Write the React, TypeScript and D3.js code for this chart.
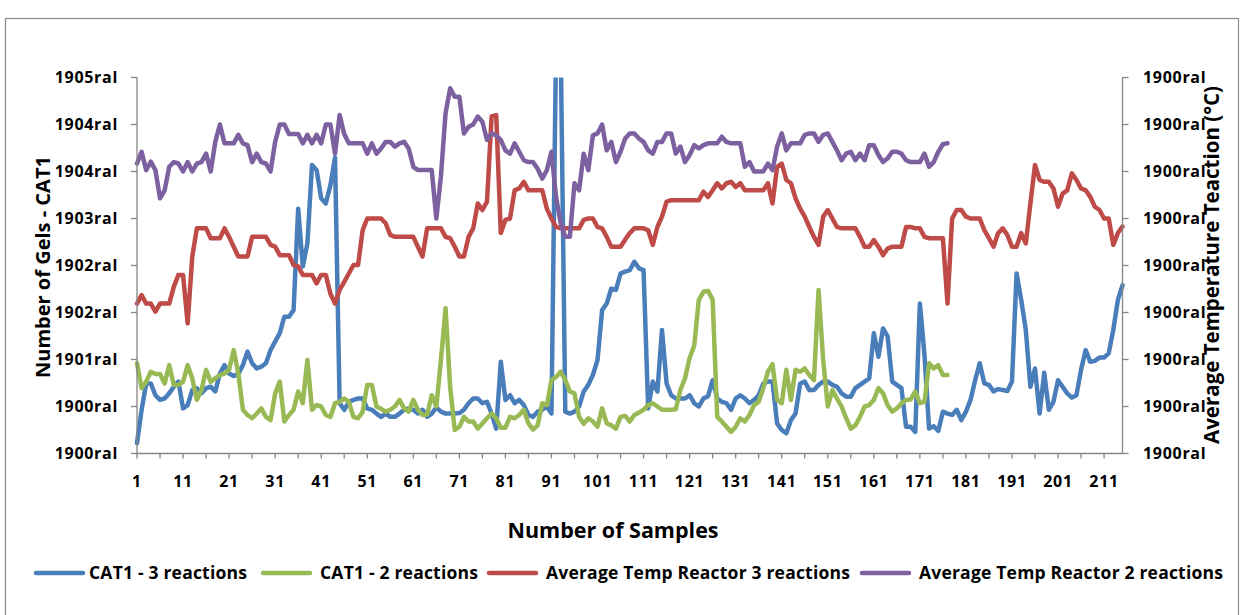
import React from 'react';
import * as d3 from 'd3';

const W = 1245;
const H = 615;
const plot = { left: 137, right: 1122.5, top: 77.5, bottom: 453.5 };
const FONT = '"Open Sans", Lato, sans-serif';

// Category axis: sample numbers
const sampleCount = 215;
const samples = d3.range(1, sampleCount + 1);
const xTickLabels = [1, 11, 21, 31, 41, 51, 61, 71, 81, 91, 101, 111, 121, 131, 141, 151, 161, 171, 181, 191, 201, 211];

// Left axis (CAT1) ticks and their (odd) formatted labels
const leftTicks = [0, 200, 400, 600, 800, 1000, 1200, 1400, 1600];
const leftTickLabels = ['1900ral', '1900ral', '1901ral', '1902ral', '1902ral', '1903ral', '1904ral', '1904ral', '1905ral'];
// Right axis (temperature) ticks and labels
const rightTicks = [0, 10, 20, 30, 40, 50, 60, 70, 80];
const rightTickLabels = ['1900ral', '1900ral', '1900ral', '1900ral', '1900ral', '1900ral', '1900ral', '1900ral', '1900ral'];

// CAT1 - 3 reactions (left axis)
const cat1Reactions3 = [
  44, 186, 298, 298, 248, 228, 234, 256, 284, 306,
  192, 206, 270, 278, 256, 278, 284, 264, 340, 376,
  340, 330, 338, 376, 434, 384, 362, 370, 384, 440,
  476, 512, 582, 582, 610, 1042, 796, 894, 1228, 1206,
  1086, 1064, 1142, 1260, 214, 186, 220, 228, 234, 234,
  192, 186, 170, 156, 170, 156, 156, 170, 186, 192,
  186, 170, 186, 156, 170, 196, 178, 170, 170, 170,
  172, 186, 214, 234, 234, 214, 220, 170, 106, 390,
  228, 248, 214, 228, 206, 164, 156, 178, 186, 200,
  170, 1750, 1750, 178, 170, 178, 200, 264, 292, 334,
  398, 610, 638, 702, 696, 766, 774, 780, 816, 788,
  780, 192, 306, 264, 526, 298, 248, 234, 234, 234,
  248, 214, 200, 234, 244, 312, 234, 220, 214, 186,
  234, 248, 234, 214, 228, 248, 298, 306, 306, 128,
  100, 86, 142, 170, 298, 306, 270, 270, 292, 306,
  306, 292, 284, 256, 242, 242, 278, 292, 306, 320,
  512, 412, 532, 498, 306, 292, 278, 114, 114, 92,
  638, 420, 106, 116, 96, 178, 170, 164, 186, 142,
  178, 228, 312, 384, 298, 292, 264, 274, 270, 266,
  306, 766, 654, 526, 284, 362, 170, 344, 186, 220,
  312, 284, 256, 238, 248, 356, 440, 390, 394, 408,
  408, 426, 526, 654, 716,
];

// CAT1 - 2 reactions (left axis)
const cat1Reactions2 = [
  384, 278, 306, 348, 338, 338, 298, 376, 292, 292,
  306, 376, 320, 228, 270, 356, 306, 320, 334, 340,
  356, 440, 340, 186, 164, 150, 170, 192, 156, 142,
  256, 306, 136, 164, 186, 264, 214, 398, 186, 206,
  200, 164, 156, 214, 220, 234, 220, 156, 150, 178,
  292, 292, 200, 190, 178, 186, 200, 228, 192, 178,
  228, 186, 164, 166, 248, 200, 398, 618, 284, 100,
  114, 156, 136, 136, 106, 128, 150, 170, 150, 110,
  110, 156, 150, 164, 186, 128, 102, 120, 214, 206,
  312, 326, 348, 312, 264, 256, 156, 126, 150, 136,
  114, 192, 128, 120, 106, 156, 160, 136, 164, 174,
  186, 206, 214, 200, 186, 186, 186, 188, 270, 320,
  406, 460, 654, 688, 692, 654, 156, 136, 114, 92,
  114, 150, 136, 164, 206, 220, 278, 348, 380, 228,
  214, 356, 228, 356, 348, 362, 334, 312, 696, 398,
  200, 270, 234, 200, 150, 106, 120, 156, 200, 206,
  228, 278, 256, 206, 178, 192, 214, 228, 230, 264,
  214, 220, 384, 362, 376, 334, 334,
];

// Average Temp Reactor 3 reactions (right axis)
const tempReactor3 = [
  31.9, 33.7, 31.9, 31.9, 30.2, 31.9, 31.9, 31.9, 35.5, 38.0,
  38.0, 27.7, 41.9, 47.9, 47.9, 47.9, 45.8, 45.8, 45.8, 47.9,
  46.1, 44.0, 41.9, 41.9, 41.9, 46.1, 46.1, 46.1, 46.1, 44.4,
  44.0, 42.2, 42.2, 42.2, 40.1, 39.8, 38.0, 38.0, 38.0, 36.2,
  38.0, 38.0, 34.0, 31.9, 34.8, 36.5, 38.3, 40.1, 40.1, 47.5,
  50.0, 50.0, 50.0, 50.0, 49.0, 46.5, 46.1, 46.1, 46.1, 46.1,
  46.1, 44.0, 41.9, 47.9, 47.9, 47.9, 47.9, 46.1, 45.8, 44.0,
  41.9, 41.9, 46.1, 47.9, 53.2, 51.8, 53.6, 71.7, 72.0, 46.9,
  49.7, 50.0, 56.0, 56.4, 57.8, 56.0, 56.0, 56.0, 56.0, 52.1,
  50.0, 48.2, 47.9, 47.9, 47.9, 47.9, 47.9, 49.7, 50.0, 50.0,
  48.2, 47.9, 46.1, 44.0, 44.0, 44.0, 45.5, 46.9, 47.9, 47.9,
  47.9, 47.5, 44.4, 48.2, 50.4, 53.6, 53.9, 53.9, 53.9, 53.9,
  53.9, 53.9, 53.9, 55.7, 54.6, 56.0, 57.5, 56.4, 57.5, 57.8,
  56.7, 57.5, 56.0, 56.0, 56.0, 56.0, 56.0, 57.5, 53.2, 61.0,
  61.7, 58.2, 57.5, 54.3, 52.1, 50.4, 48.2, 46.1, 44.4, 50.4,
  51.8, 50.0, 48.2, 47.9, 47.9, 47.9, 47.9, 46.1, 44.0, 44.0,
  45.4, 44.0, 42.2, 43.6, 44.0, 44.0, 44.0, 48.2, 48.2, 47.9,
  47.9, 46.1, 45.8, 45.8, 45.8, 45.8, 31.9, 50.0, 51.8, 51.8,
  50.4, 50.0, 50.0, 50.0, 47.5, 45.8, 44.0, 46.9, 47.9, 46.5,
  44.0, 44.0, 46.9, 44.7, 53.2, 61.4, 58.2, 57.8, 57.8, 56.4,
  52.5, 55.3, 56.0, 59.6, 58.2, 56.4, 56.0, 54.6, 52.5, 51.8,
  50.0, 50.0, 44.4, 46.9, 48.3,
];

// Average Temp Reactor 2 reactions (right axis)
const tempReactor2 = [
  61.7, 64.2, 60.3, 62.1, 60.3, 54.3, 56.0, 61.0, 62.0, 61.7,
  60.0, 62.0, 60.0, 61.7, 62.0, 63.8, 60.0, 66.3, 70.0, 66.0,
  66.0, 66.0, 67.8, 66.0, 65.6, 62.0, 63.8, 62.0, 61.7, 60.0,
  66.3, 70.0, 70.0, 68.0, 68.0, 68.0, 66.0, 67.8, 66.0, 67.8,
  66.0, 70.0, 70.0, 63.8, 72.0, 68.0, 66.0, 66.0, 66.0, 66.0,
  63.8, 66.0, 63.8, 64.9, 66.3, 66.3, 65.3, 66.0, 66.3, 64.9,
  61.0, 60.3, 60.3, 60.3, 60.3, 50.0, 59.0, 72.4, 77.7, 75.9,
  75.9, 68.1, 69.5, 70.0, 71.7, 70.6, 66.7, 68.1, 67.7, 66.7,
  64.5, 63.8, 66.0, 64.2, 62.4, 62.0, 62.0, 60.6, 58.5, 60.3,
  64.2, 54.6, 49.0, 46.1, 46.1, 57.5, 56.0, 63.8, 60.3, 67.7,
  68.1, 70.0, 64.5, 66.3, 62.0, 64.2, 67.0, 68.1, 68.1, 67.0,
  66.3, 64.5, 63.8, 66.3, 66.3, 68.1, 68.1, 63.8, 65.3, 62.0,
  63.5, 65.6, 64.9, 65.6, 66.0, 66.0, 66.0, 67.4, 66.3, 66.0,
  66.0, 66.0, 61.0, 62.0, 60.0, 60.0, 60.0, 61.7, 60.3, 65.3,
  68.1, 64.5, 66.0, 66.0, 66.0, 67.8, 68.1, 68.1, 66.3, 67.8,
  68.1, 66.3, 64.5, 62.4, 63.8, 64.2, 62.4, 63.8, 62.4, 65.6,
  65.6, 63.5, 62.0, 62.8, 64.2, 64.2, 63.8, 62.4, 62.0, 62.0,
  62.0, 63.8, 61.0, 62.0, 64.2, 65.8, 66.0,
];

const seriesNames = ['CAT1 - 3 reactions', 'CAT1 - 2 reactions', 'Average Temp Reactor 3 reactions', 'Average Temp Reactor 2 reactions'];
const seriesColors = ['#4A7EBB', '#98B954', '#BE4B48', '#7D60A0'];
const seriesValues = [cat1Reactions3, cat1Reactions2, tempReactor3, tempReactor2];
const seriesAxis = ['left', 'left', 'right', 'right'];

// legend layout (swatch start x, text start x)
const legendLayout = [
  { sx: 36, tx: 89 },
  { sx: 263, tx: 320 },
  { sx: 489, tx: 546 },
  { sx: 862, tx: 919 },
];

export default function App() {
  const x = d3.scalePoint<number>().domain(samples).range([plot.left, plot.right]).padding(0);
  const yLeft = d3.scaleLinear().domain([0, 1600]).range([plot.bottom, plot.top]);
  const yRight = d3.scaleLinear().domain([0, 80]).range([plot.bottom, plot.top]);
  const axisColor = '#868686';
  const minorTicks = samples.filter((s) => (s - 1) % 5 === 0);

  const lines = seriesValues.map((vals, si) => {
    const y = seriesAxis[si] === 'left' ? yLeft : yRight;
    const gen = d3
      .line<number>()
      .x((_, i) => x(samples[i]) as number)
      .y((d) => y(d));
    return gen(vals) || '';
  });

  const tickFont = { fontSize: 16, fontWeight: 700, letterSpacing: 0.7 } as const;

  return (
    <svg
      width={W}
      height={H}
      viewBox={`0 0 ${W} ${H}`}
      style={{ position: 'absolute', left: 0, top: 0, background: '#fff' }}
      fontFamily={FONT}
    >
      <defs>
        <clipPath id="plotClip">
          <rect x={plot.left - 3} y={plot.top} width={plot.right - plot.left + 6} height={plot.bottom - plot.top + 3} />
        </clipPath>
      </defs>
      <rect x={0} y={0} width={W} height={H} fill="#fff" />
      <rect x={5.5} y={18.5} width={1233} height={700} fill="none" stroke="#8c8c8c" strokeWidth={1.2} />

      {/* series */}
      <g clipPath="url(#plotClip)">
        {lines.map((d, i) => (
          <path key={i} d={d} fill="none" stroke={seriesColors[i]} strokeWidth={4.5} strokeLinejoin="round" strokeLinecap="round" />
        ))}
      </g>

      {/* left axis */}
      <line x1={plot.left} x2={plot.left} y1={plot.top} y2={plot.bottom} stroke={axisColor} strokeWidth={1.3} />
      {leftTicks.map((t, i) => (
        <g key={'l' + i}>
          <line x1={plot.left - 6} x2={plot.left} y1={yLeft(t)} y2={yLeft(t)} stroke={axisColor} strokeWidth={1.3} />
          <text x={118} y={yLeft(t)} dy="0.36em" textAnchor="end" {...tickFont} fill="#000">
            {leftTickLabels[i]}
          </text>
        </g>
      ))}

      {/* right axis */}
      <line x1={plot.right} x2={plot.right} y1={plot.top} y2={plot.bottom} stroke={axisColor} strokeWidth={1.3} />
      {rightTicks.map((t, i) => (
        <g key={'r' + i}>
          <line x1={plot.right} x2={plot.right + 6} y1={yRight(t)} y2={yRight(t)} stroke={axisColor} strokeWidth={1.3} />
          <text x={1143} y={yRight(t)} dy="0.36em" textAnchor="start" {...tickFont} fill="#000">
            {rightTickLabels[i]}
          </text>
        </g>
      ))}

      {/* bottom axis */}
      <line x1={plot.left} x2={plot.right} y1={plot.bottom} y2={plot.bottom} stroke={axisColor} strokeWidth={1.3} />
      {minorTicks.map((s) => (
        <line key={'t' + s} x1={x(s)} x2={x(s)} y1={plot.bottom} y2={plot.bottom + 5} stroke={axisColor} strokeWidth={1.3} />
      ))}
      {xTickLabels.map((s) => (
        <text key={'x' + s} x={x(s)} y={487} textAnchor="middle" {...tickFont} fill="#000">
          {s}
        </text>
      ))}

      {/* axis titles */}
      <text x={613} y={538} textAnchor="middle" fontSize={21.5} fontWeight={700} fill="#000">
        Number of Samples
      </text>
      <text transform="translate(50,267) rotate(-90)" textAnchor="middle" fontSize={20} fontWeight={700} fill="#000">
        Number of Gels - CAT1
      </text>
      <text transform="translate(1219,265) rotate(-90)" textAnchor="middle" fontSize={20.5} fontWeight={700} fill="#000">
        Average Temperature Teaction (°C)
      </text>

      {/* legend */}
      {seriesNames.map((name, i) => (
        <g key={'lg' + i}>
          <line x1={legendLayout[i].sx} x2={legendLayout[i].sx + 47} y1={573} y2={573} stroke={seriesColors[i]} strokeWidth={4.5} strokeLinecap="round" />
          <text x={legendLayout[i].tx} y={573} dy="0.36em" fontSize={17.5} fontWeight={700} letterSpacing={0.2} fill="#000">
            {name}
          </text>
        </g>
      ))}
    </svg>
  );
}
